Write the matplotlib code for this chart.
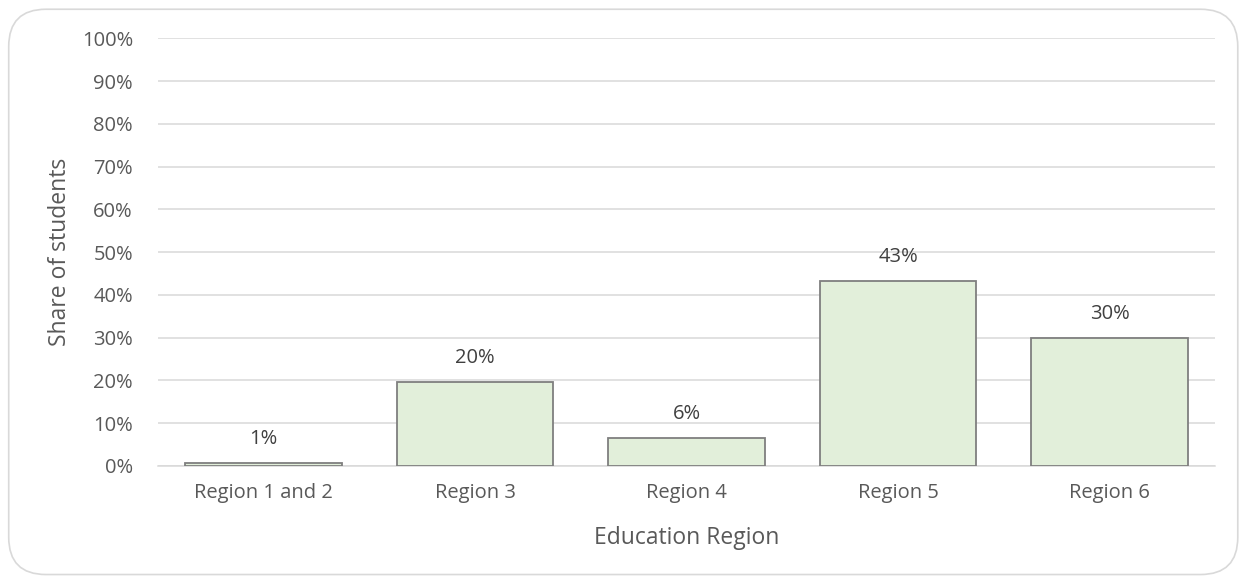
import matplotlib.pyplot as plt
from matplotlib.patches import FancyBboxPatch
from matplotlib.ticker import PercentFormatter

regions = ['Region 1 and 2', 'Region 3', 'Region 4', 'Region 5', 'Region 6']
shares = [0.7, 19.6, 6.5, 43.2, 29.9]
labels = ['1%', '20%', '6%', '43%', '30%']

plt.rcParams['font.family'] = ['Open Sans', 'DejaVu Sans']

fig = plt.figure(figsize=(12.44, 5.78), dpi=100)
ax = fig.add_axes([0.127, 0.1938, 0.85, 0.740])

# rounded outer frame
frame = FancyBboxPatch((0.007, 0.006), 0.988, 0.978,
                       boxstyle='round,pad=0,rounding_size=0.03',
                       transform=fig.transFigure, facecolor='none',
                       edgecolor='#D9D9D9', linewidth=1.2,
                       mutation_aspect=1244 / 578)
fig.patches.append(frame)

x = range(len(regions))
bars = ax.bar(x, shares, width=0.74, color='#E2EFDA', edgecolor='#7F7F7F',
              linewidth=1.3, zorder=3)
for b, lab in zip(bars, labels):
    ax.text(b.get_x() + b.get_width() / 2, b.get_height() + 5.6, lab,
            ha='center', va='center', fontsize=14.5, color='#404040')

ax.set_ylim(0, 100)
ax.set_xlim(-0.5, len(regions) - 0.5)
ax.set_yticks(range(0, 101, 10))
ax.yaxis.set_major_formatter(PercentFormatter(decimals=0))
ax.set_xticks(list(x))
ax.set_xticklabels(regions)
ax.tick_params(axis='both', length=0, labelsize=14.5, labelcolor='#595959')
ax.tick_params(axis='y', pad=18)
ax.tick_params(axis='x', pad=12)
ax.grid(axis='y', color='#D9D9D9', linewidth=1.1, zorder=0)
for s in ['top', 'right', 'left']:
    ax.spines[s].set_visible(False)
ax.spines['bottom'].set_color('#D9D9D9')
ax.spines['bottom'].set_linewidth(1.1)

ax.set_xlabel('Education Region', fontsize=16.5, color='#595959', labelpad=17)
ax.set_ylabel('Share of students', fontsize=16.5, color='#595959', labelpad=7)

fig.savefig('out.png', dpi=100)
